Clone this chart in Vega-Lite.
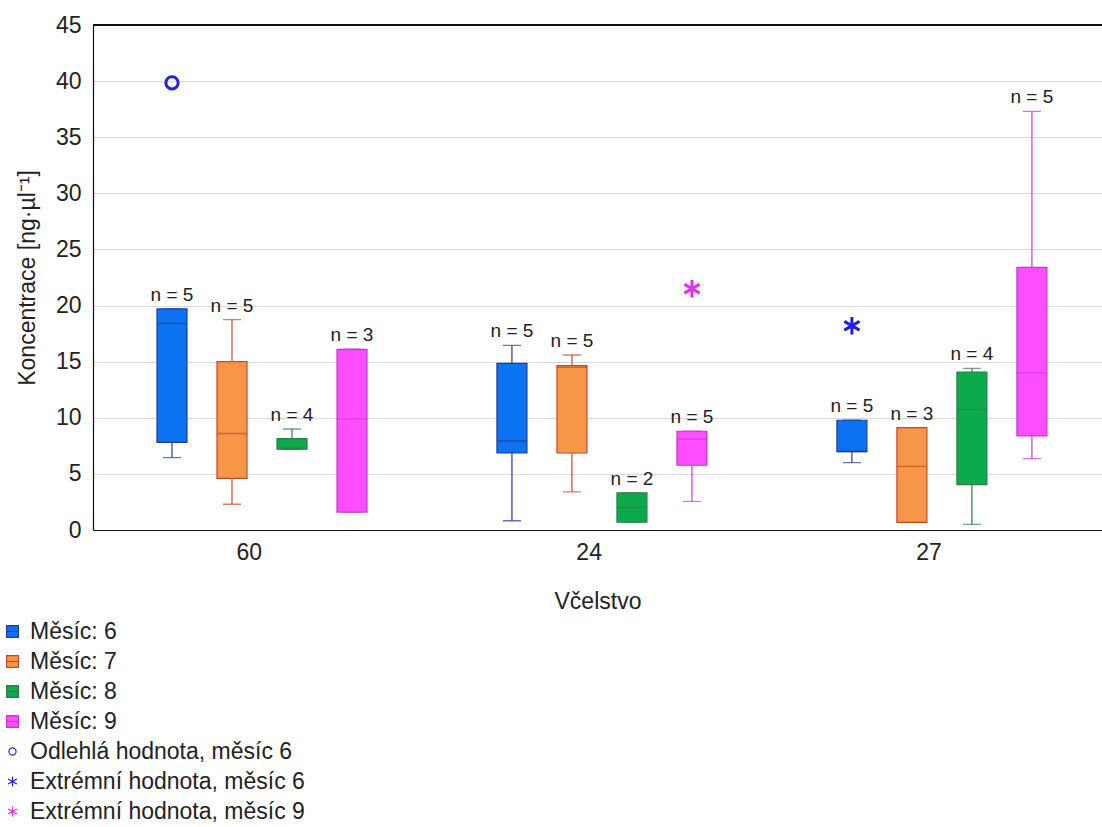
{
  "$schema": "https://vega.github.io/schema/vega-lite/v6.json",
  "autosize": "none",
  "width": 1009,
  "height": 505,
  "padding": {"left": 93, "top": 25, "right": 0, "bottom": 297},
  "background": "white",
  "config": {
    "font": "Liberation Sans",
    "view": {"stroke": null},
    "axis": {"labelFontSize": 23, "titleFontSize": 23, "titleFontWeight": "normal", "labelColor": "#222", "titleColor": "#222", "domainColor": "#111", "domainWidth": 1.2}
  },
  "datasets": {
    "boxes": [
      {"v": "60", "m": 6, "cat": "Měsíc: 6", "lo": 6.45, "q1": 7.8, "med": 18.4, "q3": 19.7, "hi": 19.7, "n": "n = 5"},
      {"v": "60", "m": 7, "cat": "Měsíc: 7", "lo": 2.3, "q1": 4.6, "med": 8.6, "q3": 15.0, "hi": 18.75, "n": "n = 5"},
      {"v": "60", "m": 8, "cat": "Měsíc: 8", "lo": 7.2, "q1": 7.2, "med": 7.3, "q3": 8.15, "hi": 9.0, "n": "n = 4"},
      {"v": "60", "m": 9, "cat": "Měsíc: 9", "lo": 1.6, "q1": 1.6, "med": 9.9, "q3": 16.1, "hi": 16.1, "n": "n = 3"},
      {"v": "24", "m": 6, "cat": "Měsíc: 6", "lo": 0.83, "q1": 6.86, "med": 7.93, "q3": 14.85, "hi": 16.45, "n": "n = 5"},
      {"v": "24", "m": 7, "cat": "Měsíc: 7", "lo": 3.4, "q1": 6.86, "med": 14.5, "q3": 14.65, "hi": 15.6, "n": "n = 5"},
      {"v": "24", "m": 8, "cat": "Měsíc: 8", "lo": 0.69, "q1": 0.69, "med": 2.0, "q3": 3.3, "hi": 3.3, "n": "n = 2"},
      {"v": "24", "m": 9, "cat": "Měsíc: 9", "lo": 2.55, "q1": 5.77, "med": 8.1, "q3": 8.8, "hi": 8.8, "n": "n = 5"},
      {"v": "27", "m": 6, "cat": "Měsíc: 6", "lo": 6.0, "q1": 6.98, "med": 7.0, "q3": 9.78, "hi": 9.78, "n": "n = 5"},
      {"v": "27", "m": 7, "cat": "Měsíc: 7", "lo": 0.68, "q1": 0.68, "med": 5.67, "q3": 9.12, "hi": 9.12, "n": "n = 3"},
      {"v": "27", "m": 8, "cat": "Měsíc: 8", "lo": 0.5, "q1": 4.04, "med": 10.75, "q3": 14.08, "hi": 14.4, "n": "n = 4"},
      {"v": "27", "m": 9, "cat": "Měsíc: 9", "lo": 6.36, "q1": 8.38, "med": 14.0, "q3": 23.4, "hi": 37.3, "n": "n = 5"}
    ],
    "outl": [
      {"v": "60", "m": 6, "cat": "Odlehlá hodnota, měsíc 6", "y": 39.85},
      {"v": "24", "m": 9, "cat": "Extrémní hodnota, měsíc 9", "y": 21.5},
      {"v": "27", "m": 6, "cat": "Extrémní hodnota, měsíc 6", "y": 18.2}
    ]
  },
  "layer": [
    {
      "data": {"name": "boxes"},
      "mark": {"type": "rule", "color": "#111", "strokeWidth": 1.2},
      "encoding": {"y": {"datum": 45, "type": "quantitative"}}
    },
    {
      "data": {"name": "boxes"},
      "mark": {"type": "rule", "strokeWidth": 1.2},
      "encoding": {
        "x": {"field": "v", "type": "nominal"},
        "xOffset": {"field": "m", "type": "nominal"},
        "y": {"field": "lo", "type": "quantitative"},
        "y2": {"field": "q1"},
        "stroke": {"field": "cat", "type": "nominal"}
      }
    },
    {
      "data": {"name": "boxes"},
      "mark": {"type": "rule", "strokeWidth": 1.2},
      "encoding": {
        "x": {"field": "v", "type": "nominal"},
        "xOffset": {"field": "m", "type": "nominal"},
        "y": {"field": "q3", "type": "quantitative"},
        "y2": {"field": "hi"},
        "stroke": {"field": "cat", "type": "nominal"}
      }
    },
    {
      "data": {"name": "boxes"},
      "mark": {"type": "tick", "size": 18, "thickness": 0, "filled": false, "strokeWidth": 1.4},
      "encoding": {
        "x": {"field": "v", "type": "nominal"},
        "xOffset": {"field": "m", "type": "nominal"},
        "y": {"field": "lo", "type": "quantitative"},
        "stroke": {"field": "cat", "type": "nominal"}
      }
    },
    {
      "data": {"name": "boxes"},
      "mark": {"type": "tick", "size": 18, "thickness": 0, "filled": false, "strokeWidth": 1.4},
      "encoding": {
        "x": {"field": "v", "type": "nominal"},
        "xOffset": {"field": "m", "type": "nominal"},
        "y": {"field": "hi", "type": "quantitative"},
        "stroke": {"field": "cat", "type": "nominal"}
      }
    },
    {
      "data": {"name": "boxes"},
      "mark": {"type": "bar", "size": 30, "strokeWidth": 1.2},
      "encoding": {
        "x": {
          "field": "v", "type": "nominal", "sort": ["60", "24", "27"],
          "scale": {"domain": ["60", "24", "27"], "paddingInner": 0.294, "paddingOuter": 0.131, "align": 0.55},
          "axis": {"title": "Včelstvo", "labelAngle": 0, "ticks": false, "labelPadding": 22, "titlePadding": 26}
        },
        "xOffset": {"field": "m", "type": "nominal", "scale": {"domain": [6, 7, 8, 9], "paddingInner": 0, "paddingOuter": 0}},
        "y": {
          "field": "q1", "type": "quantitative",
          "scale": {"domain": [0, 45], "nice": false, "zero": true},
          "axis": {"title": "Koncentrace [ng·µl⁻¹]", "values": [0, 5, 10, 15, 20, 25, 30, 35, 40, 45], "grid": true, "gridColor": "#d9d9d9", "gridWidth": 1.2, "ticks": false, "labelPadding": 12, "titlePadding": 16}
        },
        "y2": {"field": "q3"},
        "fill": {
          "field": "cat", "type": "nominal",
          "scale": {
            "domain": ["Měsíc: 6", "Měsíc: 7", "Měsíc: 8", "Měsíc: 9", "Odlehlá hodnota, měsíc 6", "Extrémní hodnota, měsíc 6", "Extrémní hodnota, měsíc 9"],
            "range": ["#0b72f2", "#f79646", "#0caa4c", "#ff4dff", "transparent", "transparent", "transparent"]
          },
          "legend": {
            "title": null, "orient": "none", "legendX": -92, "legendY": 595, "labelFontSize": 23, "labelColor": "#222", "labelLimit": 500, "rowPadding": 6, "symbolSize": 140, "labelOffset": 6, "symbolStrokeWidth": 1.2, "symbolOpacity": 1, "padding": 0,
            "encode": {"symbols": {"update": {"fillOpacity": {"value": 1}, "strokeOpacity": {"value": 1}, "opacity": {"value": 1}}}}
          }
        },
        "stroke": {
          "field": "cat", "type": "nominal",
          "scale": {
            "domain": ["Měsíc: 6", "Měsíc: 7", "Měsíc: 8", "Měsíc: 9", "Odlehlá hodnota, měsíc 6", "Extrémní hodnota, měsíc 6", "Extrémní hodnota, měsíc 9"],
            "range": ["#243b95", "#c24a2c", "#2f7d43", "#c03cc8", "#2424d8", "#2020e0", "#e62ee6"]
          }
        }
      }
    },
    {
      "data": {"name": "boxes"},
      "mark": {"type": "tick", "size": 30, "thickness": 0, "filled": false, "strokeWidth": 1.4},
      "encoding": {
        "x": {"field": "v", "type": "nominal"},
        "xOffset": {"field": "m", "type": "nominal"},
        "y": {"field": "med", "type": "quantitative"},
        "stroke": {"field": "cat", "type": "nominal"}
      }
    },
    {
      "data": {"name": "boxes"},
      "mark": {"type": "text", "baseline": "bottom", "dy": -4, "fontSize": 19, "color": "#222"},
      "encoding": {
        "x": {"field": "v", "type": "nominal"},
        "xOffset": {"field": "m", "type": "nominal"},
        "y": {"field": "hi", "type": "quantitative"},
        "text": {"field": "n"}
      }
    },
    {
      "data": {"name": "outl"},
      "mark": {"type": "point", "size": 420, "strokeWidth": 3, "filled": false, "opacity": 1},
      "encoding": {
        "x": {"field": "v", "type": "nominal"},
        "xOffset": {"field": "m", "type": "nominal"},
        "y": {"field": "y", "type": "quantitative"},
        "fill": {"field": "cat", "type": "nominal"},
        "stroke": {"field": "cat", "type": "nominal"},
        "shape": {
          "field": "cat", "type": "nominal",
          "scale": {
            "domain": ["Měsíc: 6", "Měsíc: 7", "Měsíc: 8", "Měsíc: 9", "Odlehlá hodnota, měsíc 6", "Extrémní hodnota, měsíc 6", "Extrémní hodnota, měsíc 9"],
            "range": ["M-1,-1H1V1H-1ZM-1,0H1", "M-1,-1H1V1H-1ZM-1,0H1", "M-1,-1H1V1H-1ZM-1,0H1", "M-1,-1H1V1H-1ZM-1,0H1", "M0,-0.6A0.6,0.6 0 1,1 0,0.6A0.6,0.6 0 1,1 0,-0.6Z", "M0,-0.85L0,0.85M-0.74,-0.43L0.74,0.43M-0.74,0.43L0.74,-0.43", "M0,-0.85L0,0.85M-0.74,-0.43L0.74,0.43M-0.74,0.43L0.74,-0.43"]
          }
        }
      }
    }
  ]
}
